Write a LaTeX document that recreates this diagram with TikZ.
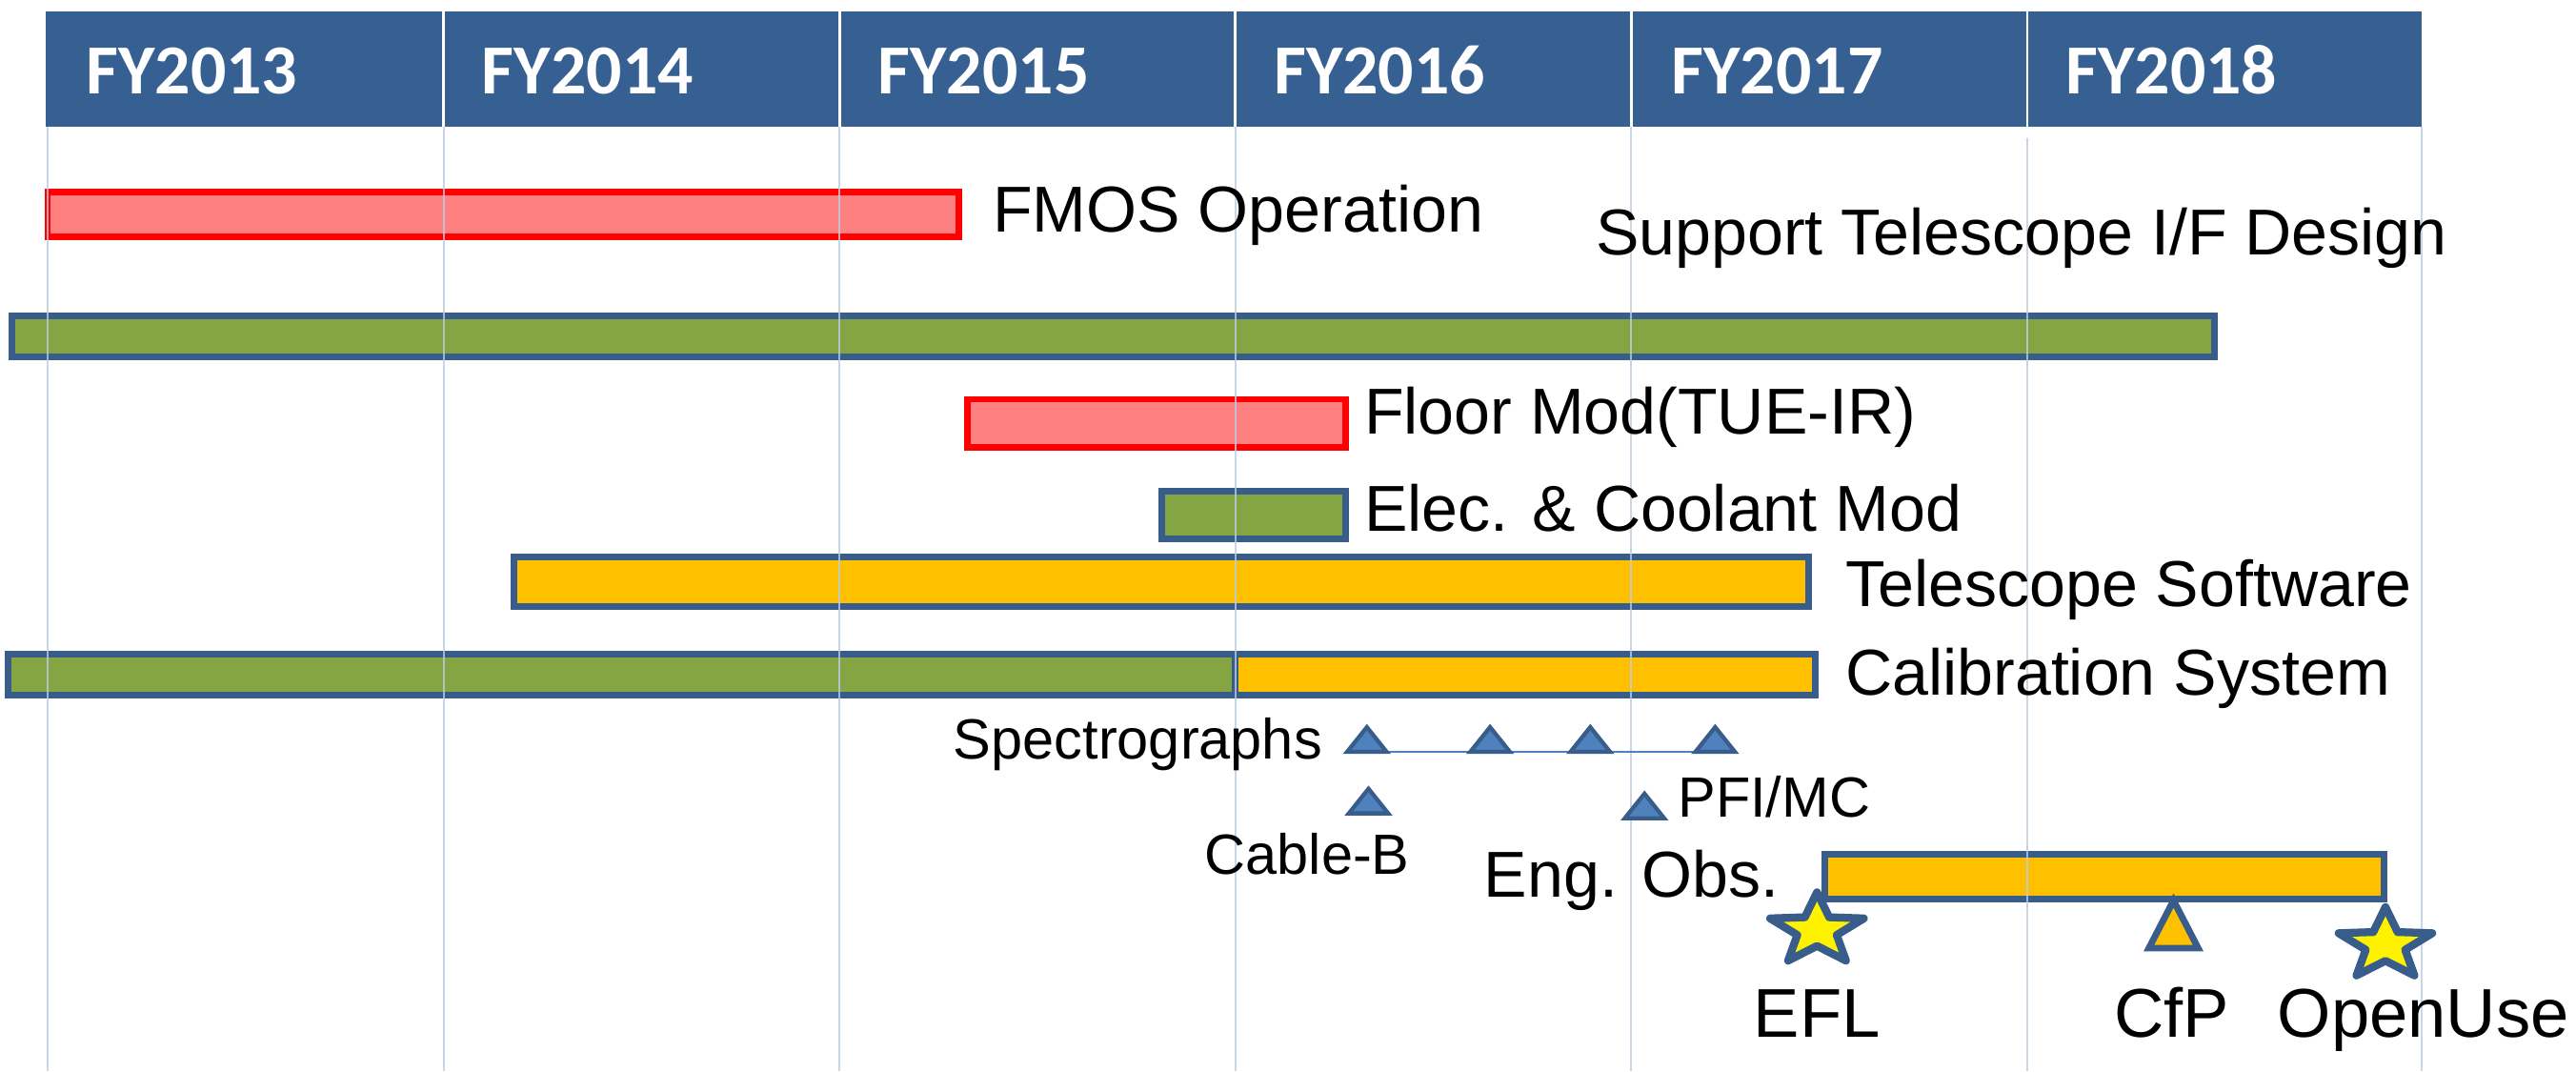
\documentclass[tikz,border=0pt]{standalone}
\usepackage{fontspec}
\setmainfont{Liberation Sans}
\newfontfamily\hdrfont{Carlito}
\definecolor{hdrblue}{RGB}{55,96,146}
\definecolor{bord}{RGB}{56,93,138}
\definecolor{gfill}{RGB}{132,165,66}
\definecolor{yfill}{RGB}{255,192,0}
\definecolor{pfill}{RGB}{255,128,128}
\definecolor{gridc}{RGB}{185,205,228}
\definecolor{trifill}{RGB}{79,129,189}
\newcommand\mystar[1]{%
  \begin{scope}[shift={(#1)}, x=15pt, y=11.5pt]
    \draw[starsty] (90:1) \foreach \a/\r in {126/0.42,162/1,198/0.42,234/1,270/0.42,306/1,342/0.42,378/1,414/0.42}{ -- (\a:\r) } -- cycle;
  \end{scope}}
\newcommand\mytri[4]{%
  \begin{scope}[shift={(#1)}, x=#2, y=#3]
    \draw[#4] (0,1) -- (1,0) -- (-1,0) -- cycle;
  \end{scope}}
\begin{document}
\begin{tikzpicture}[x=0.5pt,y=-0.5pt,
  barsty/.style={draw=bord, line width=2pt},
  redbar/.style={draw=red, fill=pfill, line width=2pt},
  gridl/.style={draw=gridc, line width=0.6pt, opacity=0.8},
  lbl/.style={anchor=base west, inner sep=0pt, font=\fontsize{19.75}{22}\selectfont},
  slbl/.style={anchor=base west, inner sep=0pt, font=\fontsize{17.25}{20}\selectfont},
  blbl/.style={anchor=base, inner sep=0pt, font=\fontsize{21}{24}\selectfont},
  yr/.style={anchor=base west, inner sep=0pt, text=white, font=\hdrfont\bfseries\fontsize{21.4}{24}\selectfont},
  starsty/.style={draw=bord, fill=yellow, line width=2.4pt, line join=round},
  smalltri/.style={draw=bord, fill=trifill, line width=1.25pt},
  cfptri/.style={draw=bord, fill=yfill, line width=2pt},
  spline/.style={draw=trifill, line width=0.75pt}]
\useasboundingbox (0,0) rectangle (1568,652);
\fill[white] (0,0) rectangle (1568,652);
% header
\fill[hdrblue] (28,7) rectangle (1474,77);
\foreach \x in {270,511,752,993,1234}{\draw[white, line width=0.8pt] (\x,7) -- (\x,77);}
\node[yr] (y13) at (52,57) {FY2013};
\node[yr] (y14) at (293,57) {FY2014};
\node[yr] (y15) at (534,57) {FY2015};
\node[yr] (y16) at (775,57) {FY2016};
\node[yr] (y17) at (1017,57) {FY2017};
\node[yr] (y18) at (1257,57) {FY2018};
% bars
\draw[redbar] (29,117) rectangle (583.5,144);
\draw[barsty, fill=gfill] (7,192) rectangle (1348,217);
\draw[redbar] (589,243) rectangle (819,272);
\draw[barsty, fill=gfill] (707,299) rectangle (819,328);
\draw[barsty, fill=yfill] (313,339) rectangle (1101,369);
\draw[barsty, fill=gfill] (5,398) rectangle (752,423);
\draw[barsty, fill=yfill] (752,398) rectangle (1105,423);
\draw[barsty, fill=yfill] (1111,520) rectangle (1451,547);
% grid
\foreach \x in {29,270,511,752,993,1474}{\draw[gridl] (\x,77) -- (\x,652);}
\draw[gridl] (1234,84) -- (1234,652);
% labels
\node[lbl] (fmos) at (604,141) {FMOS Operation};
\node[lbl] (sup) at (971,155) {Support Telescope I/F Design};
\node[lbl] (floor) at (830,264) {Floor Mod(TUE-IR)};
\node[lbl] (elec) at (830,323) {Elec. \& Coolant Mod};
\node[lbl] (tsw) at (1123,369) {Telescope Software};
\node[lbl] (cal) at (1123,423) {Calibration System};
\node[slbl] (spec) at (580,462) {Spectrographs};
\node[slbl] (pfi) at (1021,497) {PFI/MC};
\node[slbl] (cab) at (733,532) {Cable-B};
\node[lbl] (eng) at (903,546) {Eng. Obs.};
\node[blbl] (efltxt) at (1106,631) {EFL};
\node[blbl] (cfptxt) at (1322,631) {CfP};
\node[blbl] (outxt) at (1475,631) {OpenUse};
% milestones
\coordinate (s1) at (832,457.5);
\coordinate (s2) at (907,457.5);
\coordinate (s3) at (968,457.5);
\coordinate (s4) at (1044,457.5);
\coordinate (cb) at (833,495);
\coordinate (pf) at (1001,498);
\draw[spline] (s1) -- (s4);
\foreach \c in {s1,s2,s3,s4,cb,pf}{\mytri{\c}{6pt}{7.5pt}{smalltri}}
\coordinate (cfp) at (1323,577);
\mytri{cfp}{7.5pt}{14.5pt}{cfptri}
\coordinate (efl) at (1106,566);
\coordinate (ou) at (1452,575);
\mystar{efl}
\mystar{ou}
\end{tikzpicture}
\end{document}
